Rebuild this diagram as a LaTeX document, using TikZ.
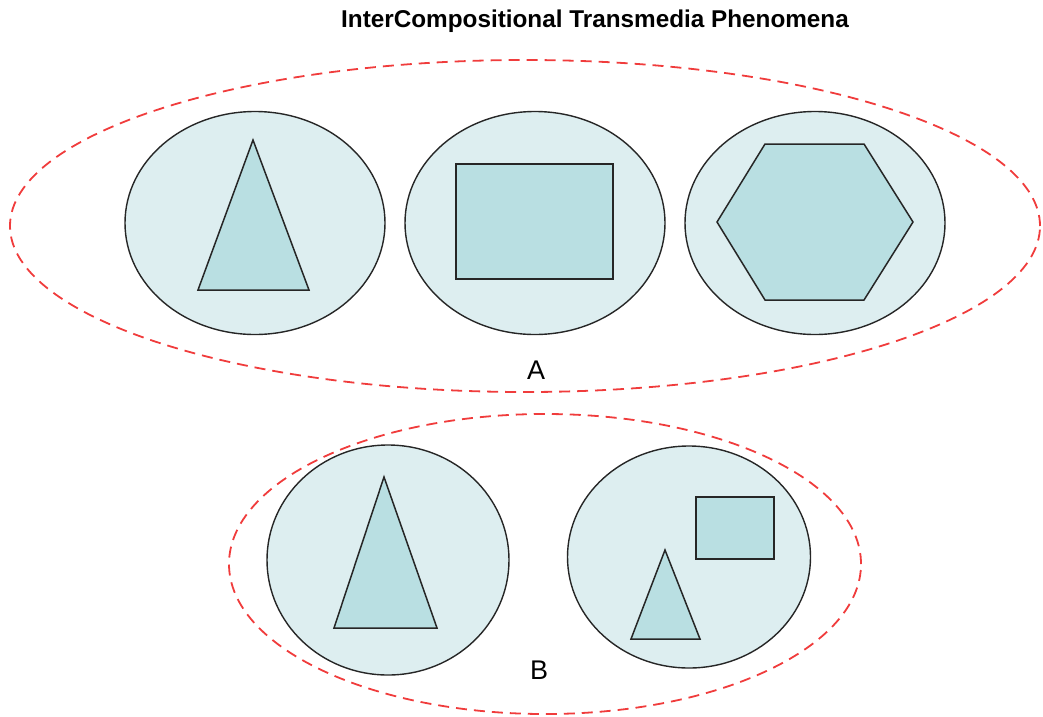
\documentclass[tikz,border=0pt]{standalone}
\usepackage{fontspec}
\setmainfont{Liberation Sans}
\usetikzlibrary{shapes.geometric}
\definecolor{outerfill}{HTML}{DDEEF0}
\definecolor{innerfill}{HTML}{B9DFE2}
\definecolor{dashred}{HTML}{F03C3C}
\tikzset{
  group/.style={draw=dashred, line width=1.8pt, dash pattern=on 11pt off 7pt, ellipse, inner sep=0pt},
  medium/.style={draw=black!85, fill=outerfill, line width=1.4pt, ellipse, inner sep=0pt},
  shapefill/.style={draw=black!85, fill=innerfill, line width=1.5pt, line join=miter},
  lbl/.style={font=\fontsize{27}{30}\selectfont, inner sep=0pt},
}
\begin{document}
\begin{tikzpicture}[x=1pt,y=-1pt]
\useasboundingbox (0,0) rectangle (1043,716);
\node[font=\bfseries\fontsize{24.3}{28}\selectfont, inner sep=0pt] (title) at (595,21) {InterCompositional Transmedia Phenomena};
% group A
\node[group, minimum width=1030pt, minimum height=332pt] (gA) at (525,226) {};
\node[medium, minimum width=260pt, minimum height=223pt] (m1) at (255,223) {};
\node[medium, minimum width=260pt, minimum height=223pt] (m2) at (535,223) {};
\node[medium, minimum width=260pt, minimum height=223pt] (m3) at (815,223) {};
\draw[shapefill] (253,140) -- (309,290) -- (198,290) -- cycle;
\draw[shapefill] (456,164) rectangle (613,279);
\draw[shapefill] (765,144) -- (864,144) -- (913,222) -- (864,300) -- (765,300) -- (717,222) -- cycle;
\node[lbl] (A) at (536,370) {A};
% group B
\node[group, minimum width=632pt, minimum height=300pt] (gB) at (545,564) {};
\node[medium, minimum width=242pt, minimum height=230pt] (m4) at (388,560) {};
\node[medium, minimum width=243pt, minimum height=222pt] (m5) at (689,557) {};
\draw[shapefill] (384,477) -- (437,628) -- (334,628) -- cycle;
\draw[shapefill] (696,497) rectangle (774,559);
\draw[shapefill] (665,550) -- (700,639) -- (631,639) -- cycle;
\node[lbl] (B) at (539,670) {B};
\end{tikzpicture}
\end{document}
